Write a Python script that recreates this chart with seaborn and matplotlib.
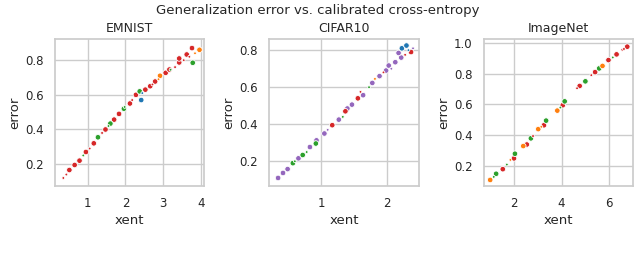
import matplotlib
matplotlib.use("Agg")
import matplotlib.pyplot as plt
import seaborn as sns
import pandas as pd

# ---- EMNIST ----
emnist_red_x = [0.51, 0.65, 0.78, 0.95, 1.16, 1.47, 1.70, 1.83, 2.12, 2.28, 2.53, 2.66, 2.79, 3.07, 3.17, 3.43, 3.43, 3.63, 3.77]
emnist_red_y = [0.166, 0.195, 0.22, 0.27, 0.32, 0.40, 0.457, 0.49, 0.55, 0.60, 0.63, 0.65, 0.677, 0.727, 0.746, 0.787, 0.81, 0.833, 0.87]
emnist_green_x = [1.27, 1.60, 1.96, 2.38, 3.79]
emnist_green_y = [0.355, 0.434, 0.52, 0.62, 0.785]
emnist_orange_x = [2.92, 3.97]
emnist_orange_y = [0.71, 0.86]
emnist_blue_x = [2.42]
emnist_blue_y = [0.57]
# faint little markers hugging the trend
emnist_tiny_x = [0.35, 0.43, 0.88, 1.05, 1.38, 1.55, 1.98, 2.18, 2.45, 2.72, 2.88, 3.20, 3.32, 3.55, 3.70, 3.85]
emnist_tiny_y = [0.12, 0.14, 0.25, 0.29, 0.38, 0.42, 0.53, 0.57, 0.61, 0.66, 0.69, 0.745, 0.76, 0.80, 0.82, 0.84]
emnist_tiny_c = ["red", "red", "green", "red", "red", "green", "green", "red", "blue", "red", "orange", "green", "red", "red", "red", "orange"]

# ---- CIFAR10 ----
cifar_purple_x = [0.345, 0.42, 0.49, 0.655, 0.83, 0.93, 1.05, 1.27, 1.40, 1.47, 1.64, 1.78, 1.89, 1.99, 2.03, 2.13, 2.22, 2.18]
cifar_purple_y = [0.11, 0.137, 0.158, 0.216, 0.277, 0.313, 0.35, 0.425, 0.485, 0.506, 0.557, 0.623, 0.66, 0.69, 0.717, 0.735, 0.76, 0.785]
cifar_green_x = [0.57, 0.72, 0.92]
cifar_green_y = [0.19, 0.234, 0.296]
cifar_red_x = [1.17, 1.37, 1.56, 2.37]
cifar_red_y = [0.395, 0.47, 0.54, 0.79]
cifar_blue_x = [2.23, 2.30]
cifar_blue_y = [0.81, 0.825]
cifar_tiny_x = [0.60, 0.78, 1.10, 1.33, 1.60, 1.73, 1.82, 1.95, 2.07, 2.28, 2.33, 2.40]
cifar_tiny_y = [0.20, 0.25, 0.37, 0.44, 0.575, 0.60, 0.645, 0.68, 0.70, 0.775, 0.80, 0.81]
cifar_tiny_c = ["green", "green", "purple", "green", "red", "green", "orange", "red", "purple", "red", "blue", "purple"]

# ---- ImageNet ----
imnet_red_x = [1.53, 2.00, 2.54, 3.26, 4.05, 4.76, 5.41, 5.97, 6.31, 6.76]
imnet_red_y = [0.18, 0.25, 0.34, 0.465, 0.595, 0.72, 0.81, 0.888, 0.925, 0.975]
imnet_green_x = [1.25, 2.04, 2.71, 3.35, 4.13, 5.00, 5.58]
imnet_green_y = [0.15, 0.28, 0.38, 0.495, 0.62, 0.75, 0.834]
imnet_orange_x = [1.00, 2.39, 3.02, 3.82, 5.72]
imnet_orange_y = [0.11, 0.33, 0.44, 0.56, 0.85]
imnet_tiny_x = [1.15, 1.70, 1.85, 2.80, 3.15, 3.95, 4.65, 5.25, 6.15, 6.55, 6.62]
imnet_tiny_y = [0.13, 0.21, 0.24, 0.395, 0.455, 0.58, 0.705, 0.79, 0.905, 0.955, 0.96]
imnet_tiny_c = ["green", "green", "orange", "red", "orange", "green", "red", "red", "green", "red", "red"]

panels = ["EMNIST", "CIFAR10", "ImageNet"]
colors = {"blue": "#1f77b4", "orange": "#ff7f0e", "green": "#2ca02c", "red": "#d62728", "purple": "#9467bd"}


def build(big, tiny_x, tiny_y, tiny_c):
    rows = []
    for c, xs, ys in big:
        rows += [dict(xent=x, error=y, model=c, kind="big") for x, y in zip(xs, ys)]
    rows += [dict(xent=x, error=y, model=c, kind="tiny") for x, y, c in zip(tiny_x, tiny_y, tiny_c)]
    return pd.DataFrame(rows)


frames = {
    "EMNIST": build([("red", emnist_red_x, emnist_red_y), ("green", emnist_green_x, emnist_green_y),
                     ("orange", emnist_orange_x, emnist_orange_y), ("blue", emnist_blue_x, emnist_blue_y)],
                    emnist_tiny_x, emnist_tiny_y, emnist_tiny_c),
    "CIFAR10": build([("purple", cifar_purple_x, cifar_purple_y), ("green", cifar_green_x, cifar_green_y),
                      ("red", cifar_red_x, cifar_red_y), ("blue", cifar_blue_x, cifar_blue_y)],
                     cifar_tiny_x, cifar_tiny_y, cifar_tiny_c),
    "ImageNet": build([("red", imnet_red_x, imnet_red_y), ("green", imnet_green_x, imnet_green_y),
                       ("orange", imnet_orange_x, imnet_orange_y)],
                      imnet_tiny_x, imnet_tiny_y, imnet_tiny_c),
}

limits = {
    "EMNIST": dict(xlim=(0.12, 4.1), ylim=(0.073, 0.92), xticks=[1, 2, 3, 4], yticks=[0.2, 0.4, 0.6, 0.8]),
    "CIFAR10": dict(xlim=(0.21, 2.49), ylim=(0.066, 0.858), xticks=[1, 2], yticks=[0.2, 0.4, 0.6, 0.8]),
    "ImageNet": dict(xlim=(0.73, 7.02), ylim=(0.07, 1.022), xticks=[2, 4, 6], yticks=[0.2, 0.4, 0.6, 0.8, 1.0]),
}

sns.set_theme(style="whitegrid")
plt.rcParams["font.family"] = ["DejaVu Sans"]

fig, axes = plt.subplots(1, 3, figsize=(6.36, 2.56), dpi=100)
fig.subplots_adjust(left=0.086, right=0.996, top=0.846, bottom=0.273, wspace=0.433)

for ax, name in zip(axes, panels):
    df = frames[name]
    sns.scatterplot(data=df, x="xent", y="error", hue="model", palette=colors,
                    size="kind", sizes={"big": 16, "tiny": 4}, edgecolor="white",
                    linewidth=0.6, legend=False, ax=ax)
    lim = limits[name]
    ax.set_xlim(lim["xlim"])
    ax.set_ylim(lim["ylim"])
    ax.set_xticks(lim["xticks"])
    ax.set_yticks(lim["yticks"])
    ax.set_title(name, fontsize=9, pad=5)
    ax.set_xlabel("xent", fontsize=9.5, labelpad=3)
    ax.set_ylabel("error", fontsize=9.5, labelpad=3)
    ax.tick_params(labelsize=8.5, pad=2)
    for s in ax.spines.values():
        s.set_color("#cccccc")

fig.suptitle("Generalization error vs. calibrated cross-entropy", fontsize=9.5, y=0.985)
fig.savefig("out.png", dpi=100)
